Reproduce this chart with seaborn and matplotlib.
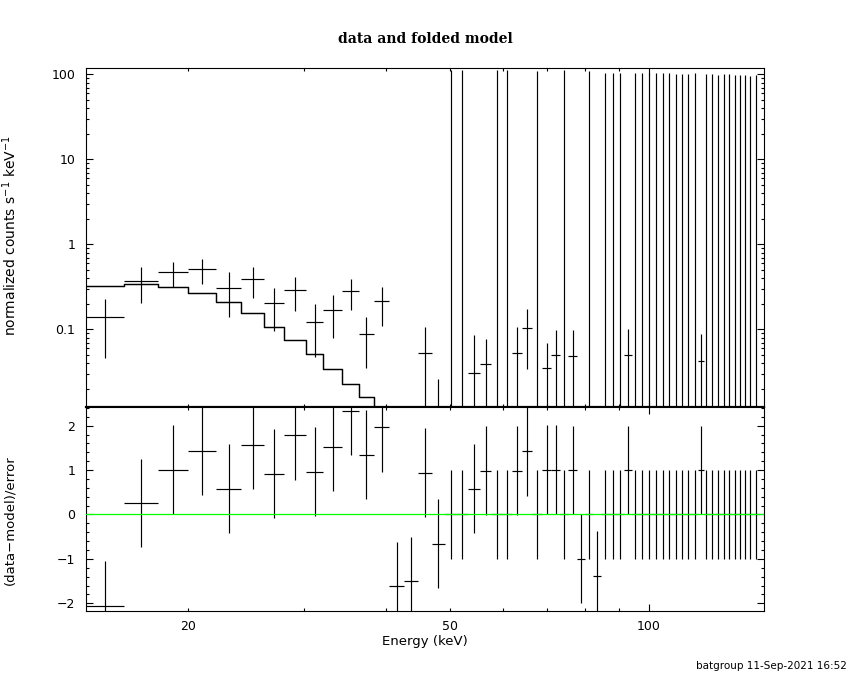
import numpy as np
import pandas as pd
import seaborn as sns
import matplotlib.pyplot as plt
from matplotlib.ticker import LogLocator, MultipleLocator, NullFormatter

# channel edges (keV)
edges = [14.0, 16.0, 18.0, 20.0, 22.1, 24.1, 26.1, 28.0, 30.2, 32.1, 34.3, 36.3, 38.3, 40.4,
         42.6, 44.7, 46.9, 49.0, 51.1, 53.2, 55.4, 57.7, 59.9, 62.0, 64.2, 66.4, 68.8,
         71.1, 73.3, 75.5, 77.7, 80.0, 82.3, 84.7, 87.1, 89.4, 91.7, 94.2, 96.6, 98.9,
         101.3, 103.7, 106.0, 108.5, 111.0, 113.5, 116.0, 118.5, 121.0, 123.4, 125.9,
         128.5, 131.0, 133.5, 136.1, 138.5, 141.1, 143.9, 146.7]

# normalized counts s^-1 keV^-1 and 1-sigma errors
rate = [0.138, 0.373, 0.468, 0.508, 0.304, 0.388, 0.202, 0.288, 0.122, 0.167, 0.280, 0.087, 0.213,
        -0.097, -0.090, 0.052, -0.051, 0.0, 0.0, 0.031, 0.039, 0.0, 0.0, 0.052, 0.104, 0.0,
        0.035, 0.050, 0.0, 0.048, -0.050, 0.0, -0.070, 0.0, 0.0, 0.0, 0.050, 0.0, 0.0,
        0.0, 0.0, 0.0, 0.0, 0.0, 0.0, 0.0, 0.0, 0.043, 0.0, 0.0, 0.0, 0.0, 0.0,
        0.0, 0.0, 0.0, 0.0, 0.0]
rate_err = [0.092, 0.17, 0.15, 0.17, 0.164, 0.153, 0.106, 0.123, 0.075, 0.087, 0.112, 0.052, 0.103,
            0.06, 0.06, 0.055, 0.077, 112, 112, 0.055, 0.038, 112, 112, 0.055, 0.07, 109,
            0.034, 0.049, 112, 0.050, 0.050, 109, 0.050, 104, 104, 104, 0.050, 103, 103,
            103, 103, 103, 103, 101, 101, 101, 103, 0.045, 101, 101, 98, 101, 101,
            98, 98, 98, 95.5, 98]

# (data-model)/error
resid = [-2.05, 0.26, 1.01, 1.44, 0.58, 1.57, 0.92, 1.78, 0.96, 1.53, 2.33, 1.35, 1.96,
         -1.61, -1.50, 0.94, -0.66, 0.0, 0.0, 0.58, 0.99, 0.0, 0.0, 0.99, 1.42, 0.0,
         1.01, 1.01, 0.0, 1.0, -1.0, 0.0, -1.38, 0.0, 0.0, 0.0, 1.0, 0.0, 0.0,
         0.0, 0.0, 0.0, 0.0, 0.0, 0.0, 0.0, 0.0, 1.0, 0.0, 0.0, 0.0, 0.0, 0.0,
         0.0, 0.0, 0.0, 0.0, 0.0]
resid_err = 1.0

# folded model (first channels, the rest is below the plot)
model = [0.326, 0.341, 0.312, 0.267, 0.211, 0.156, 0.107, 0.075, 0.051, 0.034, 0.0227, 0.0161, 0.0112]

lo = np.array(edges[:-1])
hi = np.array(edges[1:])
centre = (lo + hi) / 2
half = (hi - lo) / 2

sns.set_style('ticks')
plt.rcParams['font.family'] = ['DejaVu Sans']
plt.rcParams['axes.linewidth'] = 0.8
plt.rcParams['text.color'] = 'black'
plt.rcParams['axes.labelcolor'] = 'black'
plt.rcParams['axes.edgecolor'] = 'black'
plt.rcParams['xtick.color'] = 'black'
plt.rcParams['ytick.color'] = 'black'

fig = plt.figure(figsize=(8.5, 6.8), dpi=100)
ax1 = fig.add_axes([0.1006, 0.4010, 0.7982, 0.4985])
ax2 = fig.add_axes([0.1006, 0.1019, 0.7982, 0.2991])

for ax in (ax1, ax2):
    ax.set_xscale('log')
    ax.set_xlim(14.0, 149.4)
    ax.set_facecolor('white')
ax1.set_yscale('log')

# top panel: data + model
ax1.errorbar(centre, rate, yerr=rate_err, xerr=half, fmt='none',
             ecolor='black', elinewidth=0.85, capsize=0)
df_model = pd.DataFrame({'E': edges[:len(model) + 1], 'y': model + [model[-1]]})
sns.lineplot(data=df_model, x='E', y='y', ax=ax1, drawstyle='steps-post',
             color='black', lw=1.05, estimator=None, sort=False)
ax1.set_ylim(0.0121, 117.7)
ax1.set_xlabel('')
ax1.set_ylabel('')
ax1.spines['bottom'].set_linewidth(1.6)

# bottom panel: residuals
ax2.errorbar(centre, resid, yerr=resid_err, xerr=half, fmt='none',
             ecolor='black', elinewidth=0.85, capsize=0)
ax2.axhline(0, color='#00ff00', lw=0.9, zorder=5)
ax2.set_ylim(-2.167, 2.414)

# ticks
ax1.set_yticks([0.1, 1, 10, 100], labels=['0.1', '1', '10', '100'])
ax1.yaxis.set_minor_locator(LogLocator(base=10, subs=np.arange(2, 10)))
ax1.yaxis.set_minor_formatter(NullFormatter())
ax2.set_yticks([-2, -1, 0, 1, 2])
ax2.yaxis.set_minor_locator(MultipleLocator(0.2))

for ax in (ax1, ax2):
    ax.set_xticks([100], labels=['100'])
    ax.set_xticks([20, 30, 40, 50, 60, 70, 80, 90],
                  labels=['20', '', '', '50', '', '', '', ''], minor=True)
    ax.tick_params(which='both', direction='in', top=True, right=True,
                   width=0.8, labelsize=9, color='black', labelcolor='black')
    ax.tick_params(which='major', length=5)
    ax.tick_params(which='minor', length=2.2)
    ax.tick_params(axis='y', which='both', pad=7.5)
    ax.tick_params(axis='x', which='both', pad=6.5)
ax1.tick_params(axis='x', which='both', labelbottom=False)

# texts
fig.text(0.5, 1 - 39 / 680, 'data and folded model', ha='center', va='center',
         fontsize=10, family='DejaVu Serif', weight='bold')
fig.text(0.5, 1 - 642 / 680, 'Energy (keV)', ha='center', va='center', fontsize=9.5)
fig.text(10 / 850, 1 - 236 / 680, 'normalized counts s$^{-1}$ keV$^{-1}$',
         rotation=90, ha='center', va='center', fontsize=10)
fig.text(10 / 850, 1 - 520 / 680, '(data\u2212model)/error',
         rotation=90, ha='center', va='center', fontsize=9.5)
fig.text(847 / 850, 1 - 666 / 680, 'batgroup 11-Sep-2021 16:52', ha='right', va='center',
         fontsize=7.5)

fig.savefig('out.png', dpi=100, facecolor='white')
